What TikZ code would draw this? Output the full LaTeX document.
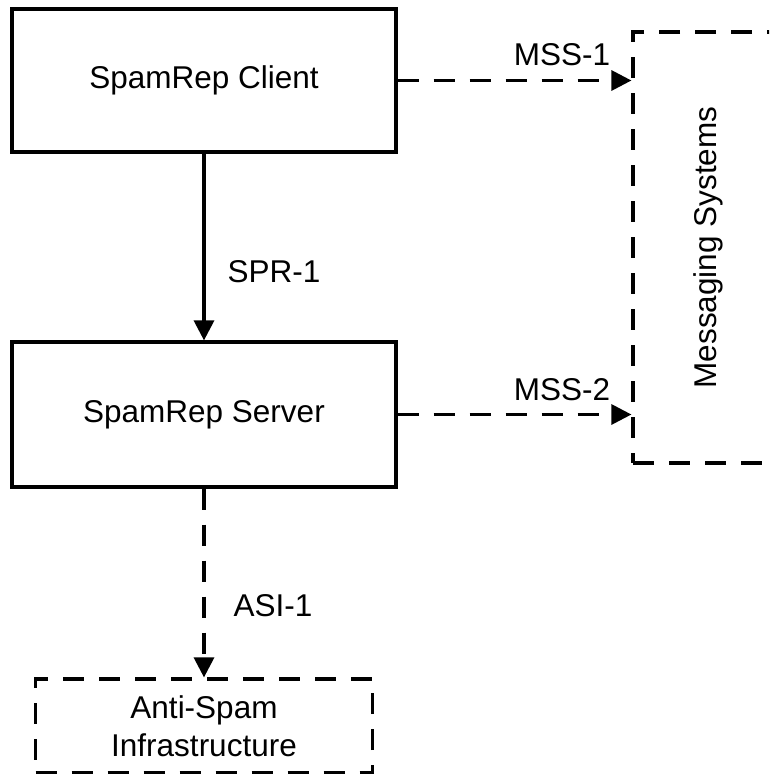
\documentclass[tikz,border=0pt]{standalone}
\usepackage{fontspec}
\usepackage{graphicx}
\setmainfont{Liberation Sans}
\usetikzlibrary{arrows.meta}
\begin{document}
\begin{tikzpicture}[x=1pt,y=-1pt,
  every node/.style={font=\fontsize{31.5}{37.5}\selectfont, inner sep=0pt, align=center},
  solidbox/.style={draw, line width=3.2pt, minimum width=384pt},
  dashbox/.style={draw, line width=3.2pt, dash pattern=on 21pt off 15pt},
  conn/.style={line width=3.2pt, -{Triangle[length=20pt,width=20pt]}},
  dconn/.style={conn, dash pattern=on 21pt off 15pt},
  lbl/.style={}]
\useasboundingbox (0,0) rectangle (769,774);
\clip (0,0) rectangle (769,774);
\node[solidbox, minimum height=143pt] (client) at (204,80.5) {SpamRep Client};
\node[solidbox, minimum height=145pt] (server) at (204,414.5) {\raisebox{5pt}{SpamRep Server}};
\node[dashbox, minimum width=150pt, minimum height=431pt] (msg) at (708,247.5) {\rotatebox{90}{Messaging Systems}};
\node[dashbox, minimum width=337pt, minimum height=94pt] (anti) at (204,726) {Anti-Spam\\Infrastructure};
\draw[conn] (client.south) -- (server.north);
\draw[dconn] (client.east) -- (client.east -| msg.west);
\draw[dconn] (server.east) -- (server.east -| msg.west);
\draw[dconn] (server.south) -- (anti.north);
\node[lbl] (spr) at (274,272) {SPR-1};
\node[lbl] (mss1) at (562,55) {MSS-1};
\node[lbl] (mss2) at (562,390) {MSS-2};
\node[lbl] (asi) at (273,606) {ASI-1};
\end{tikzpicture}
\end{document}
